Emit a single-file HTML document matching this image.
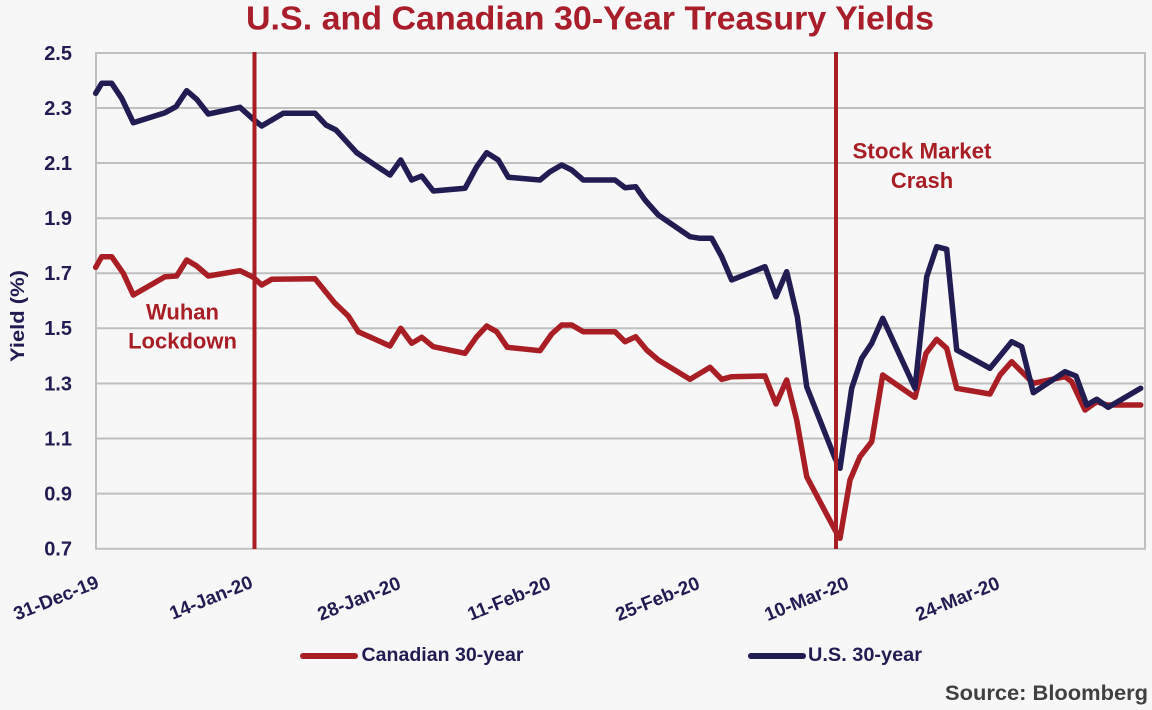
<!DOCTYPE html>
<html>
<head>
<meta charset="utf-8">
<style>
html,body{margin:0;padding:0;background:#f7f7f7;}
svg{display:block;}
text{font-family:"Liberation Sans",sans-serif;font-weight:bold;}
</style>
</head>
<body>
<svg width="1152" height="710" viewBox="0 0 1152 710" xmlns="http://www.w3.org/2000/svg">
<rect x="0" y="0" width="1152" height="710" fill="#f7f7f7"/>
<!-- title -->
<text x="246" y="29.5" font-size="33" fill="#a91e2a" textLength="688" lengthAdjust="spacingAndGlyphs">U.S. and Canadian 30-Year Treasury Yields</text>
<!-- gridlines -->
<g stroke="#bfbfbf" stroke-width="2" fill="none">
<line x1="96" y1="53" x2="1145" y2="53"/>
<line x1="96" y1="108" x2="1145" y2="108"/>
<line x1="96" y1="163" x2="1145" y2="163"/>
<line x1="96" y1="218.2" x2="1145" y2="218.2"/>
<line x1="96" y1="273.2" x2="1145" y2="273.2"/>
<line x1="96" y1="328.3" x2="1145" y2="328.3"/>
<line x1="96" y1="383.5" x2="1145" y2="383.5"/>
<line x1="96" y1="438.5" x2="1145" y2="438.5"/>
<line x1="96" y1="493.6" x2="1145" y2="493.6"/>
<line x1="96" y1="548.7" x2="1145" y2="548.7"/>
<line x1="96" y1="52" x2="96" y2="549.7"/>
<line x1="1145" y1="52" x2="1145" y2="549.7"/>
</g>
<!-- y tick labels -->
<g font-size="20" fill="#211c52" text-anchor="end">
<text x="72" y="60">2.5</text>
<text x="72" y="115">2.3</text>
<text x="72" y="170">2.1</text>
<text x="72" y="225">1.9</text>
<text x="72" y="280">1.7</text>
<text x="72" y="335">1.5</text>
<text x="72" y="390.5">1.3</text>
<text x="72" y="445.5">1.1</text>
<text x="72" y="500.5">0.9</text>
<text x="72" y="555.5">0.7</text>
</g>
<!-- y axis title -->
<text transform="translate(24,316) rotate(-90)" font-size="19" fill="#211c52" text-anchor="middle" textLength="92" lengthAdjust="spacingAndGlyphs">Yield (%)</text>
<!-- x tick labels -->
<g font-size="19" fill="#211c52" text-anchor="end">
<text transform="translate(100,587) rotate(-22)">31-Dec-19</text>
<text transform="translate(254,587) rotate(-22)">14-Jan-20</text>
<text transform="translate(402,588) rotate(-22)">28-Jan-20</text>
<text transform="translate(552,588) rotate(-22)">11-Feb-20</text>
<text transform="translate(701,588) rotate(-22)">25-Feb-20</text>
<text transform="translate(850,588) rotate(-22)">10-Mar-20</text>
<text transform="translate(1001,588) rotate(-22)">24-Mar-20</text>
</g>
<!-- series -->
<polyline fill="none" stroke="#a91e25" stroke-width="5.5" stroke-linejoin="round" stroke-linecap="round" points="95.7,267.3 101.7,256.7 111.7,256.7 123.3,273.3 133.3,295 165,276.7 176.7,276 186.7,260 196.7,266 208.3,276 240,270.7 253.3,277.3 261.7,285 271.7,279.3 315,278.7 335,303.3 348.3,316 358.3,331.7 390,346 400.7,328.3 411.7,343.3 421.7,337.3 433.3,346.7 465,353.3 476.7,336.7 486.7,326 496.7,331.7 507.3,347.3 540,350.7 551.7,334 561.7,325 571.7,325 583.3,331.7 615,331.7 625,341.7 635.7,336.7 646.7,350 658.3,360 690,379.3 710,367.3 721.7,379.3 731.7,376.7 765,376 776,404 786.7,380 796.7,420 806.7,476.7 835,530 840,538.3 850,480 860,456.7 871.7,441.7 882.7,375 915,397.3 926,353.3 936.7,339.3 946.7,348.3 956.7,388.3 990,394 1000,375 1011.7,361.7 1033.3,383.3 1065,376.7 1071.7,381.7 1085,410 1096.7,401.7 1106.7,405 1140.7,405"/>
<polyline fill="none" stroke="#211c52" stroke-width="5.5" stroke-linejoin="round" stroke-linecap="round" points="95.7,93.3 101.7,83.3 111.7,83.3 121.7,98.3 133.3,122.7 165,112.7 176,106.7 186.7,90.7 196.7,99.3 208.3,114 240,107.3 253.3,119.3 261.7,126 283.3,113.3 315,113.3 326,125 336,130 356.7,152.7 390,175 400.7,160 411.7,180 421.7,176 433.3,191 465,188.3 476.7,166.7 486.7,152.7 498.3,160 508.3,177.3 540,180 550,171.7 561.7,165 571.7,170 583.3,180 615,180 625,187.7 635.7,186.7 645,200 658.3,215 690,236.7 700,238.3 711.7,238.3 721.7,256.7 731.7,280 765,266.7 776,296.7 786.7,271.7 797.3,316.7 806.7,386.7 835,458.3 840,468.3 851.7,388.3 861.7,358.3 871.7,343.3 882.7,318.3 915,388.3 926.7,276.7 936.7,246.7 946.7,249.3 956.7,350 990,368.3 1011.7,341.7 1021.7,346.7 1033.3,392.7 1065,371.7 1076,376 1086.7,405 1096.7,399.3 1108.3,407.3 1140.7,388.3"/>
<!-- event lines -->
<line x1="254.5" y1="52" x2="254.5" y2="549" stroke="#a91e25" stroke-width="4"/>
<line x1="836" y1="52" x2="836" y2="549" stroke="#a91e25" stroke-width="4"/>
<!-- annotations -->
<g font-size="22" fill="#a91e25" text-anchor="middle">
<text x="182.5" y="319.5">Wuhan</text>
<text x="182.5" y="348.5">Lockdown</text>
<text x="922" y="158.5" textLength="139" lengthAdjust="spacingAndGlyphs">Stock Market</text>
<text x="922" y="188">Crash</text>
</g>
<!-- legend -->
<line x1="303" y1="656" x2="355" y2="656" stroke="#a91e25" stroke-width="6" stroke-linecap="round"/>
<text x="361.5" y="661" font-size="19" fill="#211c52" textLength="162" lengthAdjust="spacingAndGlyphs">Canadian 30-year</text>
<line x1="751" y1="656" x2="803" y2="656" stroke="#211c52" stroke-width="6" stroke-linecap="round"/>
<text x="808" y="661" font-size="19" fill="#211c52" textLength="114" lengthAdjust="spacingAndGlyphs">U.S. 30-year</text>
<!-- source -->
<text x="945" y="700" font-size="21" fill="#404040" textLength="203" lengthAdjust="spacingAndGlyphs">Source: Bloomberg</text>
</svg>
</body>
</html>
